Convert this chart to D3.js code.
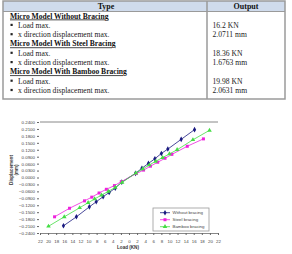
<!DOCTYPE html>
<html>
<head>
<meta charset="utf-8">
<script src="https://cdn.jsdelivr.net/npm/d3@7"></script>
<style>
  body { margin: 0; background: #fff; }
  svg { display: block; }
</style>
</head>
<body>
<svg id="chart" width="292" height="254"></svg>
<script>
// table contents
const tableHeader = ["Type", "Output"];
const tableRows = [
  { kind: "head", text: "Micro Model Without Bracing" },
  { kind: "item", text: "Load max.", value: "16.2 KN" },
  { kind: "item", text: "x direction displacement max.", value: "2.0711 mm" },
  { kind: "head", text: "Micro Model With Steel Bracing" },
  { kind: "item", text: "Load max.", value: "18.36 KN" },
  { kind: "item", text: "x direction displacement max.", value: "1.6763 mm" },
  { kind: "head", text: "Micro Model With Bamboo Bracing" },
  { kind: "item", text: "Load max.", value: "19.98 KN" },
  { kind: "item", text: "x direction displacement max.", value: "2.0631 mm" }
];

// chart data
const seriesNames = ["Without bracing", "Steel bracing", "Bamboo bracing"];
const withoutLoad = [-16.2, -13.0, -9.8, -8.1, -6.4, -4.9, -3.4, -1.8, 1.6, 3.2, 4.8, 6.4, 8.0, 9.6, 12.9, 16.2];
const withoutDisp = [-0.209, -0.170, -0.127, -0.105, -0.083, -0.065, -0.046, -0.020, 0.018, 0.040, 0.061, 0.081, 0.104, 0.123, 0.165, 0.207];
const steelLoad = [-18.4, -14.7, -11.0, -9.2, -7.4, -5.6, -3.6, -1.9, 1.8, 3.6, 5.3, 7.1, 8.9, 10.6, 14.4, 18.4];
const steelDisp = [-0.170, -0.133, -0.101, -0.085, -0.067, -0.051, -0.035, -0.018, 0.017, 0.032, 0.049, 0.066, 0.083, 0.100, 0.135, 0.167];
const bambooLoad = [-19.9, -16.0, -12.2, -10.1, -8.5, -6.8, -5.1, -3.4, -1.7, 1.7, 3.4, 5.0, 6.6, 8.3, 10.0, 11.9, 15.8, 19.9];
const bambooDisp = [-0.211, -0.170, -0.131, -0.109, -0.093, -0.076, -0.060, -0.043, -0.021, 0.019, 0.037, 0.054, 0.070, 0.086, 0.102, 0.120, 0.163, 0.204];

const xTicks = [-22, -20, -18, -16, -14, -12, -10, -8, -6, -4, -2, 0, 2, 4, 6, 8, 10, 12, 14, 16, 18, 20, 22];
const yTicks = [0.24, 0.21, 0.18, 0.15, 0.12, 0.09, 0.06, 0.03, 0, -0.03, -0.06, -0.09, -0.12, -0.15, -0.18, -0.21, -0.24];

const svg = d3.select("#chart");

// ---- table ----
const tbl = svg.append("g");
const serif = "'Liberation Serif', 'Times New Roman', serif";
tbl.append("rect").attr("x", 3).attr("y", 1).attr("width", 282).attr("height", 10.5)
  .attr("fill", "#cfdbec");
tbl.append("rect").attr("x", 3).attr("y", 1).attr("width", 282).attr("height", 98)
  .attr("fill", "none").attr("stroke", "#9a9a9a").attr("stroke-width", 1.5);
tbl.append("line").attr("x1", 3).attr("x2", 285).attr("y1", 11.5).attr("y2", 11.5)
  .attr("stroke", "#9a9a9a").attr("stroke-width", 1);
tbl.append("line").attr("x1", 207).attr("x2", 207).attr("y1", 1).attr("y2", 99)
  .attr("stroke", "#9a9a9a").attr("stroke-width", 1.5);

tbl.selectAll("text.hdr").data(tableHeader).enter().append("text")
  .attr("class", "hdr")
  .attr("x", (d, i) => i === 0 ? 106 : 246)
  .attr("y", 9)
  .attr("text-anchor", "middle")
  .attr("font-family", serif).attr("font-weight", "bold").attr("font-size", 8)
  .attr("fill", "#111")
  .text(d => d);

tableRows.forEach((r, i) => {
  const yy = 18.5 + i * 9.3;
  if (r.kind === "head") {
    tbl.append("text").attr("x", 10).attr("y", yy)
      .attr("font-family", serif).attr("font-weight", "bold").attr("font-size", 7.6)
      .attr("text-decoration", "underline").attr("fill", "#111").text(r.text);
  } else {
    tbl.append("rect").attr("x", 10.5).attr("y", yy - 4).attr("width", 2.2).attr("height", 2.2).attr("fill", "#222");
    tbl.append("text").attr("x", 18).attr("y", yy)
      .attr("font-family", serif).attr("font-size", 7.6).attr("fill", "#222").text(r.text);
    tbl.append("text").attr("x", 212.5).attr("y", yy)
      .attr("font-family", serif).attr("font-size", 7.6).attr("fill", "#222").text(r.value);
  }
});

// ---- chart ----
const sans = "'Liberation Sans', Arial, sans-serif";
const x = d3.scaleLinear().domain([-22, 22]).range([40, 218]);
const y = d3.scaleLinear().domain([-0.24, 0.24]).range([233, 122]);

// top border line
svg.append("line").attr("x1", x(-22)).attr("x2", x(22)).attr("y1", y(0.24)).attr("y2", y(0.24))
  .attr("stroke", "#888").attr("stroke-width", 1);

const yAxis = svg.append("g").attr("transform", `translate(${x(-22) - 1},0)`)
  .call(d3.axisLeft(y).tickValues(yTicks).tickFormat(d3.format(".4f")).tickSize(2).tickPadding(2));
yAxis.select(".domain").remove();
yAxis.selectAll("line").attr("stroke", "#666");
yAxis.selectAll("text").attr("font-family", sans).attr("font-size", 4.4).attr("fill", "#444");

const xAxis = svg.append("g").attr("transform", `translate(0,${y(-0.24)})`)
  .call(d3.axisBottom(x).tickValues(xTicks).tickFormat(d => Math.abs(d)).tickSize(2).tickSizeOuter(0).tickPadding(5));
xAxis.select(".domain").attr("stroke", "#888");
xAxis.selectAll("line").attr("stroke", "#666");
xAxis.selectAll("text").attr("font-family", sans).attr("font-size", 4.4).attr("fill", "#444");

// axis titles
svg.append("text").attr("x", 128).attr("y", 249).attr("text-anchor", "middle")
  .attr("font-family", sans).attr("font-weight", "bold").attr("font-size", 4.6).attr("fill", "#333")
  .text("Load (KN)");
const yt = svg.append("text").attr("transform", "translate(13,170) rotate(-90)")
  .attr("text-anchor", "middle").attr("font-family", sans).attr("font-weight", "bold")
  .attr("font-size", 4.6).attr("fill", "#333");
yt.append("tspan").attr("x", 0).attr("dy", 0).text("Displacement");
yt.append("tspan").attr("x", 0).attr("dy", 5).text("(mm)");

// series
const series = [
  { name: seriesNames[0], load: withoutLoad, disp: withoutDisp, color: "#1a1a80", sym: d3.symbolDiamond, size: 9 },
  { name: seriesNames[1], load: steelLoad, disp: steelDisp, color: "#ee22dd", sym: d3.symbolSquare, size: 9 },
  { name: seriesNames[2], load: bambooLoad, disp: bambooDisp, color: "#44dd44", sym: d3.symbolTriangle, size: 9 }
];

const line = d3.line().x(d => x(d[0])).y(d => y(d[1]));

series.forEach(s => {
  const pts = s.load.map((l, i) => [l, s.disp[i]]);
  svg.append("path").datum(pts).attr("fill", "none").attr("stroke", s.color)
    .attr("stroke-width", 0.8).attr("d", line);
  svg.selectAll(null).data(pts).enter().append("path")
    .attr("transform", d => `translate(${x(d[0])},${y(d[1])})`)
    .attr("d", d3.symbol().type(s.sym).size(s.size))
    .attr("fill", s.color);
});

// legend
const lg = svg.append("g").attr("transform", "translate(153,208)");
lg.append("rect").attr("width", 56).attr("height", 23).attr("fill", "#fff")
  .attr("stroke", "#999").attr("stroke-width", 0.8);
series.forEach((s, i) => {
  const ly = 4.7 + i * 7;
  lg.append("line").attr("x1", 7).attr("x2", 17).attr("y1", ly).attr("y2", ly)
    .attr("stroke", s.color).attr("stroke-width", 0.8);
  lg.append("path").attr("transform", `translate(12,${ly})`)
    .attr("d", d3.symbol().type(s.sym).size(s.size)).attr("fill", s.color);
  lg.append("text").attr("x", 19.5).attr("y", ly + 1.6)
    .attr("font-family", sans).attr("font-size", 4.4).attr("fill", "#444").text(s.name);
});
</script>
</body>
</html>
